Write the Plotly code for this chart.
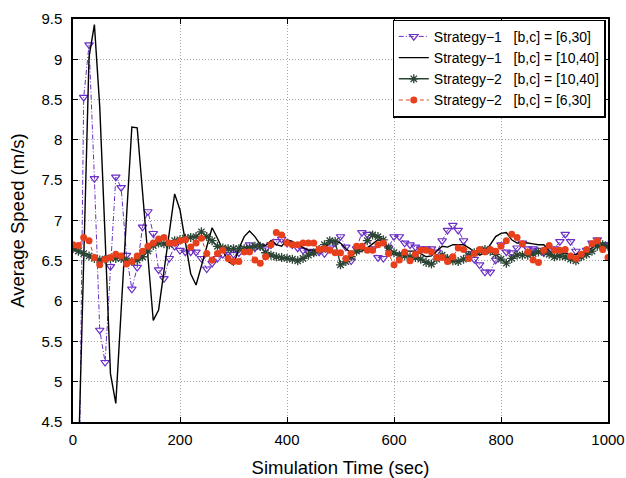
import plotly.graph_objects as go

time_s = list(range(0, 1001, 10))

s1_b6_c30 = [0.0, 2.8, 8.53, 9.18, 7.52, 5.64, 5.24, 6.43, 7.54, 7.41,
             6.57, 6.15, 6.42, 6.92, 7.11, 6.84, 6.39, 6.28, 6.53, 6.68,
             6.63, 6.61, 6.61, 6.61, 6.53, 6.40, 6.47, 6.53, 6.58, 6.61,
             6.58, 6.60, 6.65, 6.70, 6.66, 6.68, 6.65, 6.70, 6.74, 6.77,
             6.72, 6.70, 6.66, 6.63, 6.62, 6.61, 6.61, 6.59, 6.66, 6.72,
             6.80, 6.67, 6.50, 6.65, 6.85, 6.83, 6.65, 6.54, 6.53, 6.66,
             6.80, 6.80, 6.72, 6.70, 6.67, 6.65, 6.65, 6.65, 6.61, 6.75,
             6.88, 6.94, 6.88, 6.75, 6.59, 6.52, 6.45, 6.36, 6.36, 6.51,
             6.70, 6.61, 6.60, 6.66, 6.72, 6.65, 6.65, 6.63, 6.60, 6.63,
             6.65, 6.74, 6.83, 6.74, 6.62, 6.57, 6.63, 6.72, 6.76, 6.70,
             6.70]

s1_b10_c40 = [0.0, 4.0, 6.5, 9.03, 9.43, 8.41, 6.8, 5.1, 4.73, 5.93,
              7.04, 8.16, 8.15, 7.35, 6.56, 5.76, 5.89, 6.36, 6.86, 7.33,
              7.13, 6.73, 6.34, 6.20, 6.43, 6.67, 6.91, 6.78, 6.63, 6.49,
              6.45, 6.65, 6.80, 6.87, 6.80, 6.70, 6.69, 6.75, 6.70, 6.68,
              6.76, 6.74, 6.70, 6.66, 6.63, 6.63, 6.64, 6.66, 6.72, 6.75,
              6.72, 6.65, 6.60, 6.60, 6.62, 6.66, 6.71, 6.76, 6.74, 6.62,
              6.58, 6.59, 6.62, 6.62, 6.62, 6.59, 6.55, 6.56, 6.62, 6.68,
              6.67, 6.70, 6.70, 6.70, 6.66, 6.62, 6.57, 6.60, 6.70, 6.80,
              6.84, 6.85, 6.76, 6.72, 6.72, 6.72, 6.71, 6.70, 6.70, 6.62,
              6.55, 6.58, 6.60, 6.57, 6.58, 6.60, 6.60, 6.66, 6.70, 6.70,
              6.68]

s2_b10_c40 = [6.65, 6.62, 6.59, 6.56, 6.53, 6.51, 6.52, 6.53, 6.53, 6.53,
              6.50, 6.49, 6.51, 6.55, 6.62, 6.69, 6.72, 6.71, 6.70, 6.75,
              6.76, 6.78, 6.79, 6.80, 6.86, 6.80, 6.75, 6.68, 6.66, 6.65,
              6.65, 6.65, 6.65, 6.66, 6.68, 6.68, 6.60, 6.57, 6.55, 6.54,
              6.53, 6.52, 6.50, 6.53, 6.57, 6.60, 6.64, 6.70, 6.75, 6.74,
              6.45, 6.49, 6.55, 6.62, 6.66, 6.75, 6.82, 6.80, 6.76, 6.66,
              6.60, 6.57, 6.56, 6.55, 6.54, 6.52, 6.48, 6.46, 6.52, 6.57,
              6.53, 6.50, 6.49, 6.52, 6.57, 6.60, 6.62, 6.64, 6.62, 6.58,
              6.52, 6.47, 6.53, 6.57, 6.57, 6.57, 6.59, 6.61, 6.61, 6.58,
              6.55, 6.56, 6.55, 6.52, 6.50, 6.55, 6.58, 6.62, 6.68, 6.70,
              6.68]

s2_b6_c30 = [6.70, 6.69, 6.79, 6.75, 6.54, 6.45, 6.52, 6.54, 6.58, 6.56,
             6.46, 6.49, 6.56, 6.62, 6.68, 6.72, 6.77, 6.79, 6.72, 6.72,
             6.75, 6.76, 6.67, 6.72, 6.78, 6.59, 6.51, 6.59, 6.63, 6.53,
             6.49, 6.49, 6.61, 6.61, 6.51, 6.47, 6.55, 6.70, 6.85, 6.82,
             6.72, 6.70, 6.70, 6.72, 6.72, 6.72, 6.64, 6.65, 6.63, 6.60,
             6.60, 6.53, 6.59, 6.68, 6.68, 6.63, 6.63, 6.70, 6.72, 6.59,
             6.45, 6.51, 6.61, 6.50, 6.58, 6.63, 6.63, 6.61, 6.54, 6.54,
             6.49, 6.55, 6.66, 6.64, 6.53, 6.59, 6.64, 6.61, 6.64, 6.62,
             6.68, 6.75, 6.83, 6.79, 6.71, 6.61, 6.51, 6.48, 6.63, 6.69,
             6.63, 6.63, 6.64, 6.56, 6.53, 6.58, 6.64, 6.71, 6.75, 6.64,
             6.54]

x_ticks = [0, 200, 400, 600, 800, 1000]
y_ticks = [4.5, 5, 5.5, 6, 6.5, 7, 7.5, 8, 8.5, 9, 9.5]
y_tick_labels = ["4.5", "5", "5.5", "6", "6.5", "7", "7.5", "8", "8.5", "9", "9.5"]

sp = "\u00a0\u00a0\u00a0"
names = ["Strategy\u22121" + sp + "[b,c] = [6,30]",
         "Strategy\u22121" + sp + "[b,c] = [10,40]",
         "Strategy\u22122" + sp + "[b,c] = [10,40]",
         "Strategy\u22122" + sp + "[b,c] = [6,30]"]

FONT = "Liberation Sans, Arial, Helvetica, sans-serif"

fig = go.Figure()
fig.add_trace(go.Scatter(
    x=time_s, y=s1_b6_c30, name=names[0], mode="lines+markers",
    line=dict(color="#6a2fc4", width=1, dash="5px,2px,1px,2px"),
    marker=dict(symbol="triangle-down-open", size=7.5, color="#6a2fc4",
                line=dict(width=1.2, color="#6a2fc4"))))
fig.add_trace(go.Scatter(
    x=time_s, y=s1_b10_c40, name=names[1], mode="lines",
    line=dict(color="#000000", width=1.4)))
fig.add_trace(go.Scatter(
    x=time_s, y=s2_b10_c40, name=names[2], mode="lines+markers",
    line=dict(color="#2b4434", width=1.4),
    marker=dict(symbol="asterisk-open", size=7.5, color="#2b4434",
                line=dict(width=1.3, color="#2b4434"))))
fig.add_trace(go.Scatter(
    x=time_s, y=s2_b6_c30, name=names[3], mode="lines+markers",
    line=dict(color="#e8401c", width=1, dash="4px,3px"),
    marker=dict(symbol="circle", size=7, color="#e8401c",
                line=dict(width=0))))

axis_common = dict(
    showline=True, linecolor="black", linewidth=1.5, mirror="ticks",
    ticks="inside", ticklen=5, tickcolor="black", automargin=False,
    showgrid=True, gridcolor="#a8a8a8", griddash="1px,2px", gridwidth=1,
    zeroline=False, tickfont=dict(family=FONT, size=15, color="black"),
)

fig.update_xaxes(range=[0, 1000], tickvals=x_ticks, ticklabelstandoff=3,
                 title=dict(text="Simulation Time (sec)",
                            font=dict(family=FONT, size=18.5, color="black"),
                            standoff=14),
                 **axis_common)
fig.update_yaxes(range=[4.5, 9.5], tickvals=y_ticks, ticktext=y_tick_labels,
                 ticklabelstandoff=6,
                 title=dict(text="Average Speed (m/s)",
                            font=dict(family=FONT, size=18.5, color="black"),
                            standoff=12),
                 **axis_common)

fig.update_layout(
    width=626, height=478,
    margin=dict(l=73, r=18, t=19, b=56, autoexpand=False),
    paper_bgcolor="white", plot_bgcolor="white",
    font=dict(family=FONT, size=15, color="black"),
    showlegend=True,
    legend=dict(x=0.9955, y=0.9985, xanchor="right", yanchor="top",
                bgcolor="white", bordercolor="black", borderwidth=1.2,
                font=dict(family=FONT, size=14, color="black"),
                tracegroupgap=0, itemwidth=30),
)

fig.write_html("out.html",
               config={"displayModeBar": False},
               post_script="document.body.style.margin='0';"
                           "document.body.style.overflow='hidden';")
